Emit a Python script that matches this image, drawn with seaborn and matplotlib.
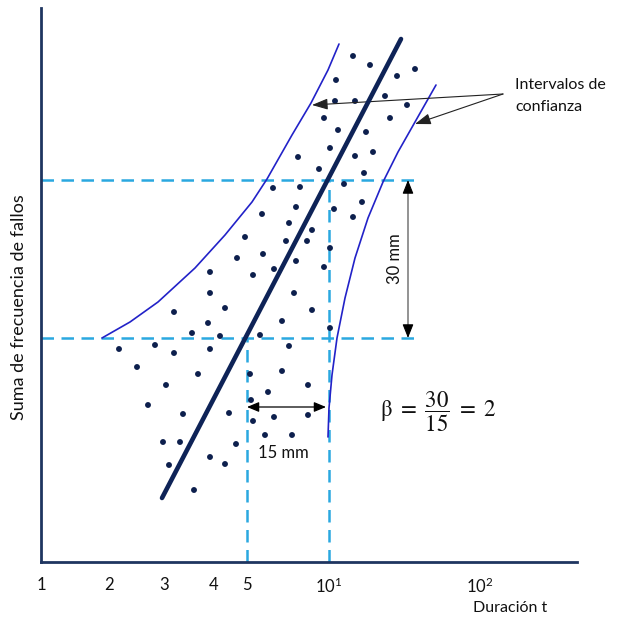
import matplotlib
matplotlib.use("Agg")
import matplotlib.pyplot as plt
import seaborn as sns
import pandas as pd

# ---- data (schematic Weibull plot, axis units measured from the origin) ----
tick_pos = [0, 68, 123, 173, 206, 288, 439]
tick_labels = ["1", "2", "3", "4", "5", r"$10^1$", r"$10^2$"]

dots_x = [312, 329, 374, 356, 295, 294, 314, 344, 366, 283, 349, 297, 325, 289, 257, 314,
          332, 278, 323, 259, 303, 232, 255, 321, 293, 221, 312, 248, 271, 204, 245, 266,
          289, 222, 255, 233, 212, 283, 253, 271, 241, 289, 219, 196, 169, 169, 184, 133,
          167, 151, 179, 78, 114, 133, 169, 248, 96, 157, 125, 107, 142, 188, 122, 139,
          195, 169, 184, 128, 153, 209, 241, 267, 227, 210, 212, 233, 267, 224, 251]
dots_y = [506, 497, 493, 486, 482, 461, 461, 466, 457, 444, 444, 432, 430, 414, 405, 406,
          410, 393, 389, 375, 378, 374, 355, 360, 353, 348, 345, 339, 332, 325, 321, 321,
          314, 308, 301, 293, 287, 295, 269, 252, 241, 234, 227, 304, 290, 269, 254, 250,
          239, 229, 226, 213, 217, 209, 213, 216, 195, 188, 177, 157, 148, 149, 120, 120,
          118, 105, 98, 97, 72, 188, 191, 177, 170, 162, 141, 145, 147, 127, 127]

fit_x = [121, 360]
fit_y = [64, 523]

upper_x = [61, 89, 117, 154, 184, 211, 226, 251, 270, 287, 298]
upper_y = [224, 240, 260, 294, 327, 360, 383, 427, 459, 492, 518]

lower_x = [287, 288, 291, 296, 304, 314, 327, 342, 357, 374, 395]
lower_y = [125, 154, 187, 224, 264, 304, 344, 380, 410, 440, 477]

level_hi = 382   # y for t = 10
level_lo = 224   # y for t = 5
x_t5 = 206
x_t10 = 288

# ---- style ----
sns.set_theme(style="white")
plt.rcParams["font.family"] = ["Lato", "DejaVu Sans"]
plt.rcParams["mathtext.fontset"] = "custom"
plt.rcParams["mathtext.rm"] = "Lato"
plt.rcParams["mathtext.it"] = "Lato:italic"

NAVY = "#1f3560"
DOT = "#0d1f4d"
LINE = "#0e2357"
CI = "#2222c8"
DASH = "#2aa8e0"

fig = plt.figure(figsize=(6.18, 6.19), dpi=100)
ax = fig.add_axes([41 / 618, (619 - 562) / 619, (577 - 41) / 618, (562 - 8) / 619])
ax.set_xlim(0, 536)
ax.set_ylim(0, 554)

# dashed guide lines
dash_kw = dict(color=DASH, lw=1.8, dashes=(5, 3), zorder=1)
ax.plot([0, 374], [level_hi, level_hi], **dash_kw)
ax.plot([0, 374], [level_lo, level_lo], **dash_kw)
ax.plot([x_t5, x_t5], [0, level_lo], **dash_kw)
ax.plot([x_t10, x_t10], [0, level_hi], **dash_kw)

# points
df = pd.DataFrame({"x": dots_x, "y": dots_y})
sns.scatterplot(data=df, x="x", y="y", ax=ax, color=DOT, s=18, edgecolor="none", zorder=3)

# fitted line
sns.lineplot(x=fit_x, y=fit_y, ax=ax, color=LINE, lw=3.3, sort=False, estimator=None, zorder=4)

# confidence curves
sns.lineplot(x=upper_x, y=upper_y, ax=ax, color=CI, lw=1.2, sort=False, estimator=None, zorder=2)
sns.lineplot(x=lower_x, y=lower_y, ax=ax, color=CI, lw=1.2, sort=False, estimator=None, zorder=2)

# annotation "Intervalos de confianza"
ax.text(474, 466, "Intervalos de\nconfianza", fontsize=11.5, ha="left", va="center",
        color="#111111", linespacing=1.65)
for tx, ty in [(271, 457), (374, 438)]:
    ax.annotate("", xy=(tx, ty), xytext=(462, 468),
                arrowprops=dict(arrowstyle="-|>,head_length=0.8,head_width=0.28",
                                color="#222222", lw=0.8, shrinkA=0, shrinkB=0))

# 30 mm arrow
ax.plot([367, 367], [level_lo + 6, level_hi - 6], color="#8a8a8a", lw=1.3, zorder=2)
ax.annotate("", xy=(367, level_hi), xytext=(367, level_hi - 12),
            arrowprops=dict(arrowstyle="-|>,head_length=0.7,head_width=0.28",
                            color="black", lw=0.8, shrinkA=0, shrinkB=0))
ax.annotate("", xy=(367, level_lo), xytext=(367, level_lo + 12),
            arrowprops=dict(arrowstyle="-|>,head_length=0.7,head_width=0.28",
                            color="black", lw=0.8, shrinkA=0, shrinkB=0))
ax.text(354, 303, "30 mm", rotation=90, fontsize=12, ha="center", va="center", color="#111111")

# 15 mm arrow
ax.annotate("", xy=(x_t5, 155), xytext=(x_t10 - 3, 155),
            arrowprops=dict(arrowstyle="<|-|>,head_length=0.6,head_width=0.25",
                            color="black", lw=0.9, shrinkA=0, shrinkB=0))
ax.text(242, 109, "15 mm", fontsize=12, ha="center", va="center", color="#111111")

# beta formula
ax.text(397, 150, r"$\mathrm{\beta}\ =\ \dfrac{30}{15}\ =\ 2$", fontsize=16.5, ha="center",
        va="center", color="#111111", math_fontfamily="stix")

# axes styling
for s in ["top", "right"]:
    ax.spines[s].set_visible(False)
for s in ["left", "bottom"]:
    ax.spines[s].set_color(NAVY)
    ax.spines[s].set_linewidth(2)
ax.set_yticks([])
ax.set_xticks(tick_pos)
ax.set_xticklabels(tick_labels, fontsize=12)
ax.tick_params(axis="x", direction="inout", length=13, width=1, color=NAVY,
               labelcolor="#111111", pad=4)
ax.set_xlabel("Duración t", fontsize=11.5, color="#111111")
ax.xaxis.set_label_coords(0.875, -0.07)
ax.set_ylabel("Suma de frecuencia de fallos", fontsize=13, color="#111111", labelpad=10)
ax.yaxis.label.set_y(0.46)

fig.savefig("out.png", dpi=100)
